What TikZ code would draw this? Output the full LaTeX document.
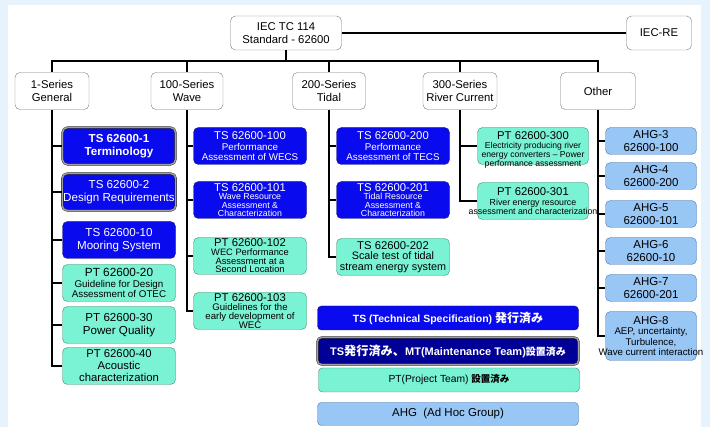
\documentclass[tikz,border=0pt]{standalone}
\usepackage{fontspec}
\setmainfont{Liberation Sans}
\newfontfamily\cjk{Noto Sans CJK JP}
\usepackage{xcolor}
\usepackage{tikz}
\usetikzlibrary{positioning}

\definecolor{bgblue}{RGB}{230,242,252}
\definecolor{hdrline}{RGB}{120,120,120}
\definecolor{tsblue}{RGB}{10,10,238}
\definecolor{tsline}{RGB}{20,20,110}
\definecolor{tsnavy}{RGB}{0,0,150}
\definecolor{ptteal}{RGB}{122,242,212}
\definecolor{ptline}{RGB}{60,140,110}
\definecolor{ahgfill}{RGB}{152,198,245}
\definecolor{ahgline}{RGB}{80,120,170}

\newcommand\fHdr{\fontsize{11.3}{13}\selectfont}
\newcommand\fBig{\fontsize{11.6}{12.5}\selectfont}
\newcommand\fTtl{\fontsize{11.3}{11}\selectfont}
\newcommand\fSm{\fontsize{9.8}{10.2}\selectfont}
\newcommand\fXs{\fontsize{8.8}{8.3}\selectfont}

\begin{document}
\begin{tikzpicture}[x=1pt, y=-1pt,
        every node/.style={align=center, inner xsep=1pt, inner ysep=-3pt},
        hdr/.style={draw=hdrline, fill=white, rounded corners=5pt,
                    minimum height=37pt, font=\fHdr},
        tsbox/.style={draw=tsline, fill=tsblue, text=white, rounded corners=5pt,
                      minimum width=113pt, minimum height=37pt, font=\fSm},
        tsmt/.style={tsbox, draw=black!85, double=gray!75, double distance=1.4pt},
        ptbox/.style={draw=ptline, fill=ptteal, rounded corners=5pt,
                      minimum width=113pt, minimum height=37pt, font=\fSm},
        ahgbox/.style={draw=ahgline, fill=ahgfill, rounded corners=5pt,
                       minimum width=91pt, minimum height=27pt,
                       font=\fontsize{11.5}{12.5}\selectfont},
        key/.style={rounded corners=4pt, minimum width=261pt, minimum height=24pt},
        conn/.style={line width=1.6pt, black}
    ]
        % background
        \fill[bgblue] (0,0) rectangle (710,427);
        \fill[white] (8,5) rectangle (701,427);

        % top level
        \node[hdr, minimum width=111pt, minimum height=34pt] (iec) at (286,33)
              {IEC TC 114\\Standard - 62600};
        \node[hdr, minimum width=65pt, minimum height=34pt] (iecre) at (659,33) {IEC-RE};

        % series
        \node[hdr, minimum width=74pt] (gen)   at (52,91)  {1-Series\\General};
        \node[hdr, minimum width=72pt] (wave)  at (187,91) {100-Series\\Wave};
        \node[hdr, minimum width=73pt] (tidal) at (329,91) {200-Series\\Tidal};
        \node[hdr, minimum width=74pt] (river) at (460,91) {300-Series\\River Current};
        \node[hdr, minimum width=75pt] (other) at (598,91) {Other};

        % 1-series
        \node[tsmt, font=\fBig\bfseries] (ts1) at (119,146) {TS 62600-1\\Terminology};
        \node[tsmt, font=\fBig] (ts2) at (119,192) {TS 62600-2\\Design Requirements};
        \node[tsbox, font=\fBig] (ts10) at (119,240) {TS 62600-10\\Mooring System};
        \node[ptbox] (pt20) at (119,283)
              {{\fontsize{11.8}{11}\selectfont PT 62600-20}\\[0.5pt]Guideline for Design\\Assessment of OTEC};
        \node[ptbox, font=\fBig] (pt30) at (119,325) {PT 62600-30\\Power Quality};
        \node[ptbox, font=\fontsize{11.3}{12}\selectfont] (pt40) at (119,366)
              {PT 62600-40\\Acoustic\\characterization};

        % 100-series
        \node[tsbox] (ts100) at (250,146)
              {{\fTtl TS 62600-100}\\[0.5pt]Performance\\Assessment of WECS};
        \node[tsbox, font=\fXs] (ts101) at (250,200)
              {{\fTtl TS 62600-101}\\Wave Resource\\Assessment \&\\Characterization};
        \node[ptbox, font=\fontsize{9.3}{8.6}\selectfont] (pt102) at (250,256)
              {{\fTtl PT 62600-102}\\WEC Performance\\Assessment at a\\Second Location};
        \node[ptbox, font=\fontsize{9.6}{8.8}\selectfont] (pt103) at (250,311)
              {{\fTtl PT 62600-103}\\Guidelines for the\\early development of\\WEC};

        % 200-series
        \node[tsbox] (ts200) at (393,146)
              {{\fTtl TS 62600-200}\\[0.5pt]Performance\\Assessment of TECS};
        \node[tsbox, font=\fXs] (ts201) at (393,200)
              {{\fTtl TS 62600-201}\\Tidal Resource\\Assessment \&\\Characterization};
        \node[ptbox, font=\fontsize{10.8}{10.6}\selectfont] (ts202) at (393,257)
              {{\fTtl TS 62600-202}\\Scale test of tidal\\stream energy system};

        % 300-series (text runs past the box)
        \node[ptbox, minimum width=111pt] (pt300) at (533,146) {};
        \node[font=\fontsize{8.6}{9}\selectfont] (pt300txt) at ([yshift=-4pt]pt300.center)
              {{\fTtl PT 62600-300}\\[0.5pt]Electricity producing river\\energy converters -- Power\\performance assessment};
        \node[ptbox, minimum width=111pt] (pt301) at (533,201) {};
        \node[font=\fontsize{8.8}{9.6}\selectfont] (pt301txt) at (pt301.center)
              {{\fTtl PT 62600-301}\\[0.5pt]River energy resource\\assessment and characterization};

        % other
        \node[ahgbox] (ahg3) at (651,141) {AHG-3\\62600-100};
        \node[ahgbox] (ahg4) at (651,176) {AHG-4\\62600-200};
        \node[ahgbox] (ahg5) at (651,214) {AHG-5\\62600-101};
        \node[ahgbox] (ahg6) at (651,251) {AHG-6\\62600-10};
        \node[ahgbox] (ahg7) at (651,288) {AHG-7\\62600-201};
        \node[ahgbox, minimum height=49pt] (ahg8) at (651,336) {};
        \node[font=\fontsize{9.7}{10.5}\selectfont] (ahg8txt) at (ahg8.center)
              {{\fontsize{11.5}{11}\selectfont AHG-8}\\AEP, uncertainty,\\Turbulence,\\Wave current interaction};

        % legend
        \node[key, draw=tsline, fill=tsblue, text=white, font=\fontsize{10.5}{11}\selectfont\bfseries]
              (keyts) at (448,318)
              {TS (Technical Specification) {\cjk\bfseries\fontsize{12}{12}\selectfont 発行済み}};
        \node[key, draw=black!85, double=gray!75, double distance=1.4pt, fill=tsnavy,
              text=white, minimum height=27pt, font=\fontsize{11}{11}\selectfont\bfseries]
              (keymt) at (448,351)
              {TS{\cjk\bfseries\fontsize{12.2}{12}\selectfont 発行済み、}MT(Maintenance Team){\cjk\bfseries\fontsize{10}{10}\selectfont 設置済み}};
        \node[key, draw=ptline, fill=ptteal, font=\fontsize{10.3}{11}\selectfont] (keypt) at (449,380)
              {PT(Project Team) {\cjk\bfseries\fontsize{9.5}{9.5}\selectfont 設置済み}};
        \node[key, draw=ahgline, fill=ahgfill, minimum height=23pt,
              font=\fontsize{11.5}{12}\selectfont] (keyahg) at (448,414)
              {AHG\ \ (Ad Hoc Group)};

        % connectors
        \coordinate (bus) at (286,61);
        \draw[conn] (iec.east) -- (iecre.west);
        \draw[conn] (iec.south) -- (bus);
        \draw[conn] (gen.north) |- (bus) -| (other.north);
        \foreach \s in {wave,tidal,river}
            \draw[conn] (\s.north) -- (\s.north |- bus);

        \draw[conn] (gen.south) |- (pt40.west);
        \foreach \c in {ts1,ts2,ts10,pt20,pt30}
            \draw[conn] (gen.south |- \c.west) -- (\c.west);
        \draw[conn] (wave.south) |- (pt103.west);
        \foreach \c in {ts100,ts101,pt102}
            \draw[conn] (wave.south |- \c.west) -- (\c.west);
        \draw[conn] (tidal.south) |- (ts202.west);
        \foreach \c in {ts200,ts201}
            \draw[conn] (tidal.south |- \c.west) -- (\c.west);
        \draw[conn] (river.south) |- (pt301.west);
        \draw[conn] (river.south |- pt300.west) -- (pt300.west);
        \draw[conn] (other.south) |- (ahg8.west);
        \foreach \c in {ahg3,ahg4,ahg5,ahg6,ahg7}
            \draw[conn] (other.south |- \c.west) -- (\c.west);
    \end{tikzpicture}
\end{document}
